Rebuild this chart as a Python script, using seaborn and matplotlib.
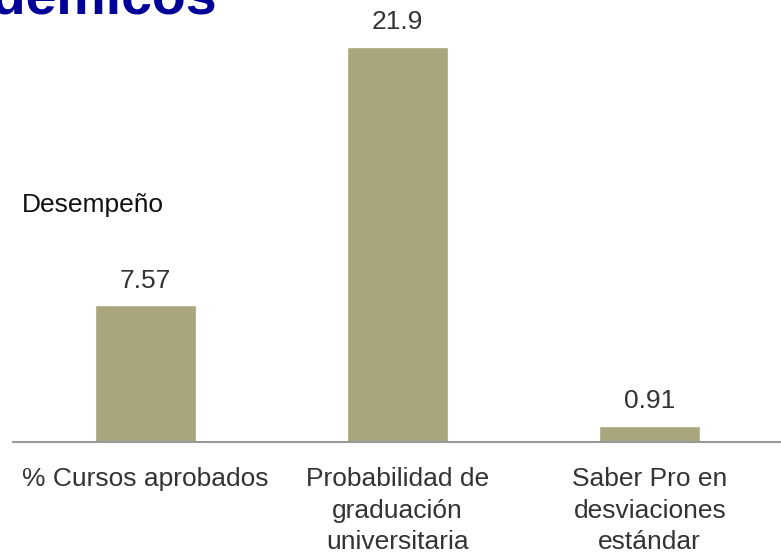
import matplotlib
matplotlib.use("Agg")
import matplotlib.pyplot as plt
import seaborn as sns
import pandas as pd

# Data
categorias = ["% Cursos aprobados", "Probabilidad de\ngraduación\nuniversitaria",
              "Saber Pro en\ndesviaciones\nestándar"]
valores = [7.57, 21.9, 0.91]
etiquetas = ["7.57", "21.9", "0.91"]

df = pd.DataFrame({"categoria": categorias, "valor": valores})

sns.set_style("white")
plt.rcParams["font.family"] = ["Liberation Sans", "DejaVu Sans"]

fig = plt.figure(figsize=(7.81, 5.55), dpi=100)
ax = fig.add_axes([13 / 781, 113 / 555, 1 - 13 / 781, 442 / 555])

sns.barplot(data=df, x="categoria", y="valor", color="#a9a57d", saturation=1,
            width=0.4, ax=ax)

for i, (v, t) in enumerate(zip(valores, etiquetas)):
    ax.text(i, v + 0.7, t, ha="center", va="bottom", fontsize=19, color="#333333")

ax.set_xlim(-0.524, 2.52)
ax.set_ylim(0, 24.5)
ax.set_yticks([])
ax.set_xlabel("")
ax.set_ylabel("")
for s in ["top", "right", "left"]:
    ax.spines[s].set_visible(False)
ax.spines["bottom"].set_color("#999999")
ax.spines["bottom"].set_linewidth(1.5)
ax.tick_params(axis="x", length=0, pad=18, labelsize=19, labelcolor="#333333")
for lbl in ax.get_xticklabels():
    lbl.set_linespacing(1.4)

fig.text(22 / 781, 1 - 205 / 555, "Desempeño", fontsize=19, color="#111111",
         va="center", ha="left")

# title cut off at the top of the slide
fig.text(217 / 781, 1 - 14 / 555, "Resultados académicos", fontsize=40,
         fontweight="bold", color="#000099", ha="right", va="baseline")

fig.savefig("out.png", dpi=100)
plt.close(fig)
